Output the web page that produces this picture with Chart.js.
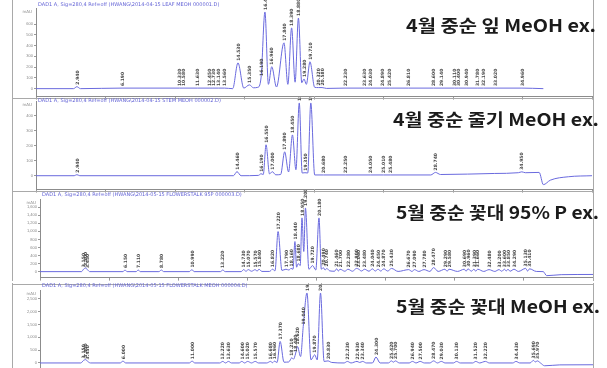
<!DOCTYPE html>
<html>
<head>
<meta charset="utf-8">
<script src="https://cdn.jsdelivr.net/npm/chart.js@4.4.1/dist/chart.umd.min.js"></script>
<style>
  html, body { margin: 0; padding: 0; background: #fff; overflow: hidden; }
  body { width: 607px; height: 368px; position: relative; }
  canvas { position: absolute; left: 0; }
</style>
</head>
<body>
<canvas id="c1" width="607" height="100" style="top:0px"></canvas>
<canvas id="c2" width="607" height="96" style="top:97px"></canvas>
<canvas id="c3" width="607" height="91" style="top:190px"></canvas>
<canvas id="c4" width="607" height="93" style="top:283px"></canvas>
<script>
// retention time (min) / signal (mAU)
const titles = [`4월 중순 잎 MeOH ex.`, `4월 중순 줄기 MeOH ex.`, `5월 중순 꽃대 95% P ex.`, `5월 중순 꽃대 MeOH ex.`]
const headers = [
  `DAD1 A, Sig=280,4 Ref=off (HWANG\\2014-04-15 LEAF MEOH 000001.D)`,
  `DAD1 A, Sig=280,4 Ref=off (HWANG\\2014-04-15 STEM MEOH 000002.D)`,
  `DAD1 A, Sig=280,4 Ref=off (HWANG\\2014-05-15 FLOWERSTALK 95P 000003.D)`,
  `DAD1 A, Sig=280,4 Ref=off (HWANG\\2014-05-15 FLOWERSTALK MEOH 000004.D)`,
]

// panel 1 : leaf
const p1PeakT = [2.94, 6.19, 10.33, 10.58, 11.63, 12.45, 12.73, 13.14, 13.56, 14.53, 15.35, 16.19, 16.47, 16.96, 17.84, 18.39, 18.88, 19.28, 19.71, 20.32, 20.58, 22.23, 23.63, 24.03, 24.89, 25.42, 26.81, 28.6, 29.14, 30.11, 30.4, 30.94, 31.78, 32.19, 33.02, 34.96]
const p1PeakH = [18, 5, 5, 5, 5, 5, 5, 5, 5, 240, 35, 100, 713, 204, 426, 565, 657, 90, 250, 10, 10, 5, 5, 5, 5, 5, 5, 5, 5, 5, 5, 5, 5, 5, 5, 5]
const p1BaseT = [0, 2.7, 3.2, 14.15, 14.95, 15.65, 15.95, 16.72, 17.3, 18.12, 18.64, 19.12, 19.45, 20.05, 20.9, 36.5]
const p1BaseV = [0, 0, 0, 0, 5, 8, 12, 40, 15, 40, 60, 55, 40, 12, 2, 0]
const p1YTicks = [0, 100, 200, 300, 400, 500, 600]

// panel 2 : stem
const p2PeakT = [2.94, 14.46, 16.19, 16.55, 17.0, 17.89, 18.45, 18.94, 19.35, 19.77, 20.68, 22.25, 24.05, 25.01, 25.48, 28.74, 34.95]
const p2PeakH = [7, 27, 13, 207, 27, 160, 273, 487, 20, 487, 5, 5, 5, 5, 5, 22, 26]
const p2BaseT = [0, 2.75, 3.15, 14.2, 14.75, 16.0, 16.35, 16.8, 17.25, 17.6, 18.17, 18.7, 19.15, 19.55, 20.05, 28.4, 29.1, 33.0, 34.7, 35.2, 36.2, 36.5, 37.0, 38.3, 40]
const p2BaseV = [0, 0, 0, 0, 0, 2, 8, 12, 6, 8, 25, 40, 18, 18, 5, 5, 8, 15, 20, 20, 22, -60, -30, -7, 0]
const p2YTicks = [0, 100, 200, 300, 400]

// panel 3 : flower stalk 95% P
const p3PeakT = [3.15, 3.3, 3.45, 6.15, 7.11, 8.78, 10.99, 13.22, 14.73, 15.07, 15.57, 15.84, 16.82, 17.22, 17.79, 18.16, 18.44, 18.68, 18.95, 19.2, 19.72, 20.18, 20.49, 20.74, 21.46, 21.7, 22.28, 22.9, 23.06, 23.48, 24.04, 24.45, 24.87, 25.43, 26.67, 27.09, 27.78, 28.47, 29.29, 29.58, 30.69, 30.96, 31.39, 31.66, 32.48, 33.2, 33.6, 33.85, 34.29, 35.13, 35.41]
const p3PeakH = [60, 90, 40, 40, 40, 40, 50, 40, 50, 50, 50, 60, 60, 995, 60, 80, 748, 200, 1334, 1581, 150, 1334, 100, 80, 70, 60, 60, 80, 60, 60, 70, 60, 70, 80, 50, 50, 50, 100, 60, 60, 60, 70, 60, 60, 50, 50, 60, 60, 60, 80, 70]
const p3BaseT = [0, 3.0, 3.6, 6.0, 6.3, 6.95, 7.25, 8.6, 8.95, 10.8, 11.15, 13.05, 13.4, 14.55, 14.9, 15.3, 15.7, 16.05, 16.6, 17.0, 17.5, 18.0, 18.3, 18.56, 18.82, 19.08, 19.45, 19.95, 20.35, 20.62, 20.95, 21.3, 21.58, 22.05, 22.6, 23.25, 23.8, 24.25, 24.65, 25.15, 25.9, 26.9, 27.4, 28.2, 28.8, 29.45, 30.2, 30.82, 31.2, 31.52, 32.1, 32.9, 33.4, 33.72, 34.0, 34.6, 35.27, 35.9, 36.4, 36.65, 37.7, 40]
const p3BaseV = [0, 0, 0, 0, 0, 0, 0, 0, 0, 0, 0, 0, 0, 0, 10, 10, 10, 5, 5, 20, 30, 40, 60, 110, 150, 500, 60, 40, 60, 40, 20, 10, 15, 10, 10, 15, 10, 15, 15, 15, 5, 5, 5, 5, 5, 10, 5, 10, 10, 10, 5, 5, 10, 15, 10, 5, 15, 5, 0, -100, -75, -70]
const p3YTicks = [0, 200, 400, 600, 800, 1000, 1200, 1400, 1600]

// panel 4 : flower stalk MeOH
const p4PeakT = [3.15, 3.3, 3.45, 6.0, 11.0, 13.22, 13.63, 14.6, 15.02, 15.57, 16.68, 16.96, 17.37, 18.21, 18.48, 18.62, 19.04, 19.31, 19.87, 20.29, 20.83, 22.23, 22.93, 23.34, 24.3, 25.42, 25.7, 26.94, 27.5, 28.47, 29.03, 30.13, 31.52, 32.22, 34.43, 35.69, 35.97]
const p4PeakH = [100, 130, 60, 70, 70, 60, 60, 60, 60, 60, 60, 70, 838, 200, 350, 644, 1420, 2728, 320, 2728, 80, 60, 60, 60, 230, 80, 80, 60, 60, 80, 60, 60, 60, 60, 60, 100, 80]
const p4BaseT = [0, 2.95, 3.65, 5.8, 6.2, 10.8, 11.2, 13.0, 13.42, 13.85, 14.4, 14.8, 15.3, 15.8, 16.4, 16.82, 17.15, 17.65, 18.0, 18.34, 18.85, 19.6, 20.05, 20.55, 21.1, 22.0, 22.5, 23.12, 23.6, 24.05, 24.6, 25.2, 25.56, 26.0, 26.7, 27.2, 27.8, 28.2, 28.75, 29.3, 29.9, 30.4, 31.3, 31.8, 32.5, 34.2, 34.7, 35.45, 35.83, 36.2, 36.5, 37.6, 40]
const p4BaseV = [0, 0, 0, 0, 0, 0, 0, 0, 0, 0, 0, 0, 0, 0, 0, 10, 20, 30, 40, 150, 250, 120, 120, 60, 20, 0, 0, 20, 0, 0, 0, 0, 30, 0, 0, 0, 0, 0, 0, 0, 0, 0, 0, 0, 0, 0, 0, 0, 40, 0, -110, -75, -70]
const p4YTicks = [0, 500, 1000, 1500, 2000, 2500]

// layout of each screenshot-like panel (canvas pixels)
const panels = [
  { id: `c1`, peakT: p1PeakT, peakH: p1PeakH, baseT: p1BaseT, baseV: p1BaseV, yTicks: p1YTicks,
    min: -74, max: 750, left: 36, right: 592, top: 8, bottom: 97, headerY: 5, titleY: 26, titleR: 596, titleW: 190, topLine: false },
  { id: `c2`, peakT: p2PeakT, peakH: p2PeakH, baseT: p2BaseT, baseV: p2BaseV, yTicks: p2YTicks,
    min: -93, max: 500, left: 36, right: 592, top: 4, bottom: 93, headerY: 4, titleY: 23, titleR: 599, titleW: 206, topLine: true },
  { id: `c3`, peakT: p3PeakT, peakH: p3PeakH, baseT: p3BaseT, baseV: p3BaseV, yTicks: p3YTicks,
    min: -148, max: 1803, left: 40, right: 593, top: 9, bottom: 88, headerY: 5, titleY: 23, titleR: 599, titleW: 203, topLine: true },
  { id: `c4`, peakT: p4PeakT, peakH: p4PeakH, baseT: p4BaseT, baseV: p4BaseV, yTicks: p4YTicks,
    min: -376, max: 2844, left: 40, right: 593, top: 7, bottom: 90, headerY: 3, titleY: 24, titleR: 600, titleW: 204, topLine: true },
]

const decor = {
  id: `decor`,
  afterDraw(chart, args, o) {
    const ctx = chart.ctx
    const a = chart.chartArea
    const xs = chart.scales.x
    const ys = chart.scales.y
    ctx.save()
    // panel frame
    ctx.strokeStyle = `#a9a9a9`
    ctx.lineWidth = 1
    ctx.beginPath()
    ctx.moveTo(12.5, 0)
    ctx.lineTo(12.5, chart.height)
    ctx.moveTo(593.5, 0)
    ctx.lineTo(593.5, chart.height)
    if (o.topLine) {
      ctx.moveTo(12, 1.5)
      ctx.lineTo(594, 1.5)
    }
    ctx.stroke()
    // ChemStation header line
    ctx.fillStyle = `#6464d6`
    ctx.font = `5px "DejaVu Sans"`
    ctx.textBaseline = `middle`
    ctx.fillText(o.header, a.left + 2, o.headerY)
    // unit on the y axis
    ctx.fillStyle = `#888`
    ctx.font = `4px "DejaVu Sans"`
    ctx.textAlign = `right`
    ctx.fillText(`mAU`, a.left - 4, a.top + 4)
    // retention time labels
    ctx.fillStyle = `#474747`
    ctx.font = `bold 4.5px "DejaVu Sans"`
    ctx.textAlign = `left`
    o.peakT.forEach((t, i) => {
      const px = xs.getPixelForValue(t)
      const py = ys.getPixelForValue(o.peakH[i]) - 2
      ctx.save()
      ctx.translate(px + 0.5, py)
      ctx.rotate(-Math.PI / 2)
      ctx.fillText(t.toFixed(3), 0, 0)
      ctx.restore()
    })
    // sample title
    ctx.fillStyle = `#1b1b1b`
    ctx.font = `bold 17px "Noto Sans CJK KR", sans-serif`
    ctx.textAlign = `left`
    const w = ctx.measureText(o.title).width
    ctx.translate(o.titleR - o.titleW, o.titleY)
    ctx.scale(o.titleW / w, 1)
    ctx.fillText(o.title, 0, 0)
    ctx.restore()
  },
}

panels.forEach((p, k) => {
  const canvas = document.getElementById(p.id)
  const points = []
  p.baseT.forEach((t, i) => points.push({ x: t, y: p.baseV[i] }))
  p.peakT.forEach((t, i) => points.push({ x: t, y: p.peakH[i] }))
  points.sort((a, b) => a.x - b.x)

  new Chart(canvas, {
    type: `line`,
    data: {
      datasets: [
        {
          data: points,
          borderColor: `#6a6ade`,
          borderWidth: 1,
          pointRadius: 0,
          cubicInterpolationMode: `monotone`,
          fill: false,
        },
      ],
    },
    options: {
      responsive: false,
      animation: false,
      events: [],
      layout: {
        padding: { left: 12, right: 607 - p.right, top: p.top, bottom: canvas.height - p.bottom - 3 },
      },
      scales: {
        x: {
          type: `linear`,
          min: 0,
          max: 40,
          afterFit: (s) => { s.height = 3 },
          ticks: { display: false, stepSize: 5 },
          grid: { drawOnChartArea: false, tickLength: 3, color: `#999` },
          border: { color: `#8c8c8c` },
        },
        y: {
          min: p.min,
          max: p.max,
          afterFit: (s) => { s.width = p.left - 12 },
          afterBuildTicks: (s) => { s.ticks = p.yTicks.map((v) => ({ value: v })) },
          ticks: { font: { size: 4 }, color: `#888`, padding: 1 },
          grid: { drawOnChartArea: false, tickLength: 2, color: `#999` },
          border: { color: `#8c8c8c` },
        },
      },
      plugins: {
        legend: { display: false },
        tooltip: { enabled: false },
        decor: {
          peakT: p.peakT,
          peakH: p.peakH,
          header: headers[k],
          title: titles[k],
          headerY: p.headerY,
          titleY: p.titleY,
          titleR: p.titleR,
          titleW: p.titleW,
          topLine: p.topLine,
        },
      },
    },
    plugins: [decor],
  })
})
</script>
</body>
</html>
